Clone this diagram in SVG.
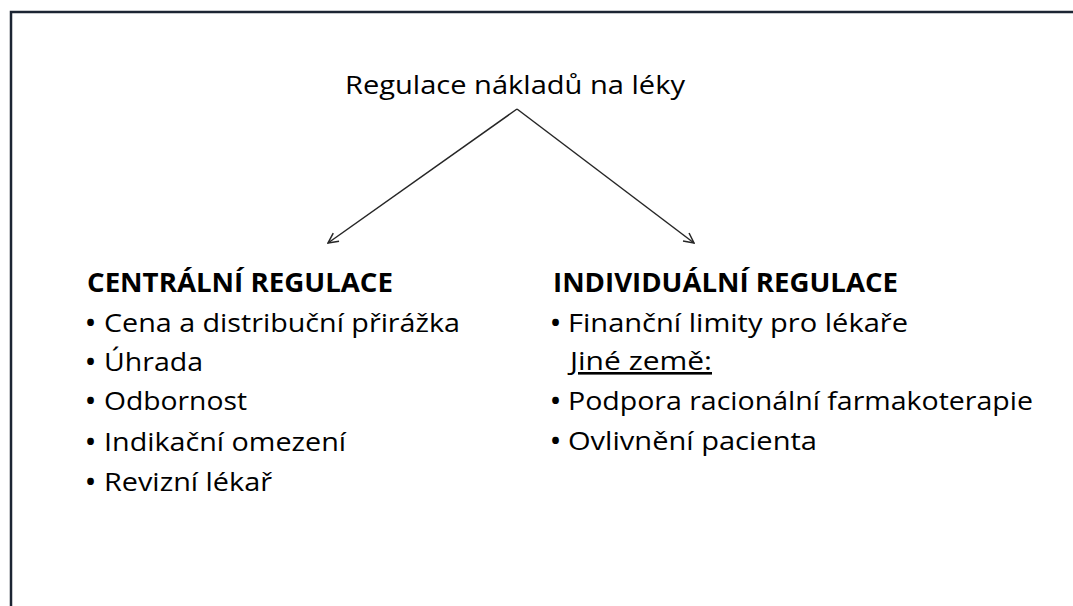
<svg xmlns="http://www.w3.org/2000/svg" width="1073" height="606" viewBox="0 0 1073 606">
<style>
.t{font-family:"Open Sans","Noto Sans","Liberation Sans",sans-serif;font-size:26px;fill:#000}
.b{font-weight:bold}
.u{font-weight:bold;font-size:24px}
.c{fill:none;stroke:#262626;stroke-width:1.5}
</style>
<defs>
<marker id="ah" viewBox="0 0 12 12" refX="11" refY="6" markerWidth="12" markerHeight="12" markerUnits="userSpaceOnUse" orient="auto">
<path d="M1,1 L11,6 L1,11" fill="none" stroke="#262626" stroke-width="1.5"/>
</marker>
</defs>
<rect width="1073" height="606" fill="#fff"/>
<rect x="11" y="12" width="1100" height="700" fill="none" stroke="#1c2533" stroke-width="2.5"/>
<g id="root">
<text class="t" x="345" y="94" textLength="340" lengthAdjust="spacingAndGlyphs">Regulace nákladů na léky</text>
</g>
<g id="connectors">
<line class="c" x1="517" y1="109" x2="328" y2="243" marker-end="url(#ah)"/>
<line class="c" x1="517" y1="109" x2="694" y2="243" marker-end="url(#ah)"/>
</g>
<g id="central">
<text class="t b" x="87" y="292" textLength="306" lengthAdjust="spacingAndGlyphs">CENTRÁLNÍ REGULACE</text>
<text class="t u" x="86" y="331">•</text><text class="t" x="104" y="332" textLength="356" lengthAdjust="spacingAndGlyphs">Cena a distribuční přirážka</text>
<text class="t u" x="86" y="370">•</text><text class="t" x="104" y="371" textLength="99" lengthAdjust="spacingAndGlyphs">Úhrada</text>
<text class="t u" x="86" y="409">•</text><text class="t" x="104" y="410" textLength="143" lengthAdjust="spacingAndGlyphs">Odbornost</text>
<text class="t u" x="86" y="450">•</text><text class="t" x="104" y="451" textLength="242" lengthAdjust="spacingAndGlyphs">Indikační omezení</text>
<text class="t u" x="86" y="490">•</text><text class="t" x="104" y="491" textLength="168" lengthAdjust="spacingAndGlyphs">Revizní lékař</text>
</g>
<g id="individual">
<text class="t b" x="553" y="292" textLength="345" lengthAdjust="spacingAndGlyphs">INDIVIDUÁLNÍ REGULACE</text>
<text class="t u" x="551" y="331">•</text><text class="t" x="568" y="332" textLength="340" lengthAdjust="spacingAndGlyphs">Finanční limity pro lékaře</text>
<text class="t" x="570" y="370" textLength="142" lengthAdjust="spacingAndGlyphs" text-decoration="underline">Jiné země:</text>
<text class="t u" x="551" y="409">•</text><text class="t" x="568" y="410" textLength="465" lengthAdjust="spacingAndGlyphs">Podpora racionální farmakoterapie</text>
<text class="t u" x="551" y="449">•</text><text class="t" x="568" y="450" textLength="249" lengthAdjust="spacingAndGlyphs">Ovlivnění pacienta</text>
</g>
</svg>
